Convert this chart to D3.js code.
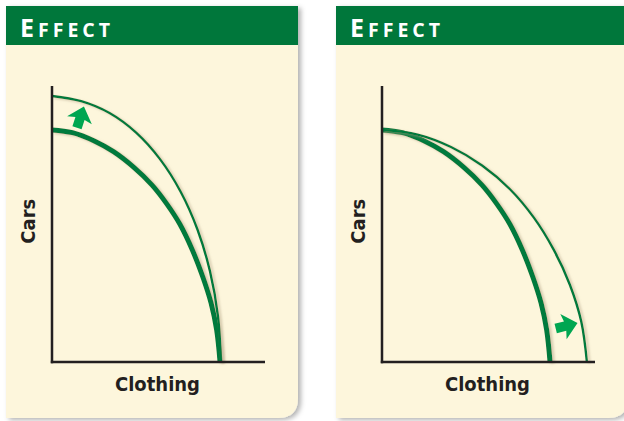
<!DOCTYPE html>
<html>
<head>
<meta charset="utf-8">
<script src="https://cdn.jsdelivr.net/npm/d3@7"></script>
<style>
	body { margin: 0; background: #ffffff; }
	svg { display: block; }
</style>
</head>
<body>
<script>

// panel titles and axis labels
var panelTitles = ["Effect", "Effect"];
var xLabel = "Clothing";
var yLabel = "Cars";

// original production possibility frontier (same in both panels): [clothing, cars]
var ppfOriginal = [
	[0, 84.1], [9.6, 83.1], [20.1, 80.0], [28.9, 76.2], [38.3, 70.6], [47.0, 64.1],
	[53.8, 57.4], [60.0, 50.0], [65.9, 40.6], [70.9, 30.6], [74.7, 21.3], [77.3, 11.6],
	[78.9, 0]
];

// shifted frontier, left panel: technology improves car production
var ppfCars = [
	[0, 96.4], [13.7, 94.5], [27.0, 90.2], [39.5, 83.1], [50.7, 73.5], [60.4, 61.7],
	[68.3, 48.0], [74.2, 32.8], [77.9, 16.7], [79.3, 0]
];

// shifted frontier, right panel: technology improves clothing production
var ppfClothing = [
	[0, 84.1], [16.7, 82.4], [32.4, 77.9], [47.0, 71.2], [60.1, 62.6], [71.3, 52.3],
	[80.6, 40.7], [88.2, 28.0], [93.6, 14.5], [96.2, 0]
];

// arrows showing the shift: [clothing, cars] of the tip, direction in degrees (0 = up)
var arrowTips = [[15.0, 92.6], [91.8, 14.1]];
var arrowAngles = [18, 76];

var width = 624, height = 421;
var panelLeft = [6, 336];
var panelW = 292, panelTop = 6, panelBottom = 418, headerH = 39;

var svg = d3.select("body").append("svg")
	.attr("width", width)
	.attr("height", height);

var defs = svg.append("defs");

// soft grey shadow behind the panels
var panelShadow = defs.append("filter").attr("id", "panel-shadow")
	.attr("x", "-5%").attr("y", "-5%").attr("width", "115%").attr("height", "115%");
panelShadow.append("feDropShadow")
	.attr("dx", 3).attr("dy", 2).attr("stdDeviation", 2.5)
	.attr("flood-color", "#000000").attr("flood-opacity", 0.3);

// light tan shadow under the curves
var curveShadow = defs.append("filter").attr("id", "curve-shadow")
	.attr("x", "-10%").attr("y", "-10%").attr("width", "130%").attr("height", "130%");
curveShadow.append("feDropShadow")
	.attr("dx", 2.5).attr("dy", 1.5).attr("stdDeviation", 1.3)
	.attr("flood-color", "#b8a98a").attr("flood-opacity", 0.55);

// scales, measured from the left axis origin of each panel
var x = d3.scaleLinear().domain([0, 100]).range([0, 213]);
var y = d3.scaleLinear().domain([0, 100]).range([276, 0]);
var axisOffset = [46, 80]; // origin of the plot inside the panel (y = top of axis)

var line = d3.line()
	.x(function (d) { return x(d[0]); })
	.y(function (d) { return y(d[1]); })
	.curve(d3.curveCatmullRom.alpha(0.5));

// block arrow pointing up, tip at (0,0)
function arrowPath() {
	return "M0,0 L13,14.5 L4.8,12.8 L4.8,22.5 L-4.8,22.5 L-4.8,12.8 L-13,14.5 Z";
}

var curvesByPanel = [ppfCars, ppfClothing];

panelLeft.forEach(function (px, i) {
	var panel = svg.append("g").attr("transform", "translate(" + px + "," + panelTop + ")");
	var h = panelBottom - panelTop, r = 20;

	// cream card with rounded bottom-right corner
	panel.append("path")
		.attr("d", "M0,0 H" + panelW + " V" + (h - r) +
			" Q" + panelW + "," + h + " " + (panelW - r) + "," + h + " H0 Z")
		.attr("fill", "#fdf6dc")
		.attr("filter", "url(#panel-shadow)");

	// green header band
	panel.append("rect")
		.attr("width", panelW).attr("height", headerH)
		.attr("fill", "#00773b");

	var title = panel.append("text")
		.attr("x", 14).attr("y", 30.5)
		.attr("fill", "#ffffff")
		.attr("font-family", "'Open Sans', 'DejaVu Sans', sans-serif")
		.attr("font-weight", "bold")
		.attr("letter-spacing", 4);
	title.append("tspan").attr("font-size", 25).text(panelTitles[i].charAt(0).toUpperCase());
	title.append("tspan").attr("font-size", 19.5).text(panelTitles[i].slice(1).toUpperCase());

	// plot area
	var plot = panel.append("g").attr("transform", "translate(" + axisOffset[0] + "," + axisOffset[1] + ")");

	plot.append("path")
		.attr("d", line(ppfOriginal))
		.attr("fill", "none")
		.attr("stroke", "#007a3d")
		.attr("stroke-width", 5)
		.attr("filter", "url(#curve-shadow)");

	plot.append("path")
		.attr("d", line(curvesByPanel[i]))
		.attr("fill", "none")
		.attr("stroke", "#007a3d")
		.attr("stroke-width", 2.4)
		.attr("filter", "url(#curve-shadow)");

	plot.append("path")
		.attr("d", arrowPath())
		.attr("transform", "translate(" + x(arrowTips[i][0]) + "," + y(arrowTips[i][1]) + ") rotate(" + arrowAngles[i] + ")")
		.attr("fill", "#00a651");

	// axes (no ticks)
	plot.append("line")
		.attr("x1", x(0)).attr("x2", x(0))
		.attr("y1", y(100)).attr("y2", y(0) + 1.2)
		.attr("stroke", "#231f20").attr("stroke-width", 2.5);
	plot.append("line")
		.attr("x1", x(0) - 1.2).attr("x2", x(100))
		.attr("y1", y(0)).attr("y2", y(0))
		.attr("stroke", "#231f20").attr("stroke-width", 2.5);

	plot.append("text")
		.attr("x", x(50) - 1).attr("y", y(0) + 29)
		.attr("text-anchor", "middle")
		.attr("font-family", "'Liberation Sans Narrow', 'DejaVu Sans Condensed', sans-serif")
		.attr("font-weight", "bold")
		.attr("font-size", 20)
		.attr("fill", "#231f20")
		.text(xLabel);

	plot.append("text")
		.attr("transform", "translate(" + (-17) + "," + y(51) + ") rotate(-90)")
		.attr("text-anchor", "middle")
		.attr("font-family", "'Liberation Sans Narrow', 'DejaVu Sans Condensed', sans-serif")
		.attr("font-weight", "bold")
		.attr("font-size", 20)
		.attr("fill", "#231f20")
		.text(yLabel);
});

</script>
</body>
</html>
